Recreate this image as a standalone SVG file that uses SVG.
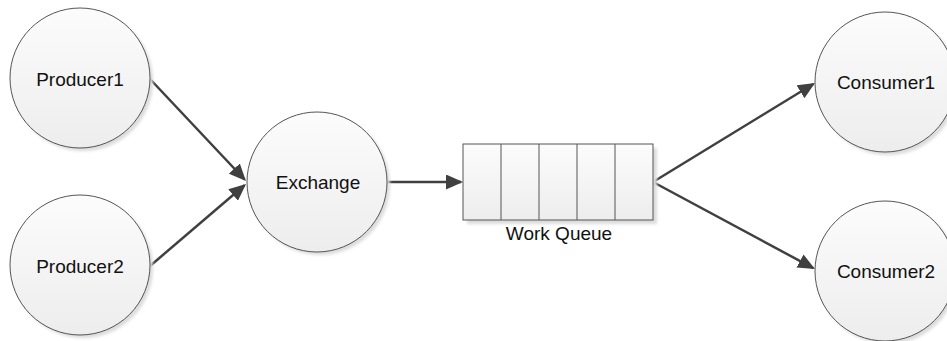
<svg xmlns="http://www.w3.org/2000/svg" width="947" height="341" viewBox="0 0 947 341">
  <defs>
    <linearGradient id="fillGrad" x1="0" y1="0" x2="0" y2="1">
      <stop offset="0" stop-color="#fcfcfc"/>
      <stop offset="1" stop-color="#ededed"/>
    </linearGradient>
    <filter id="soft" x="-20%" y="-20%" width="140%" height="140%">
      <feGaussianBlur stdDeviation="1.5"/>
    </filter>
    <marker id="arrow" markerUnits="userSpaceOnUse" markerWidth="19" markerHeight="15" refX="15" refY="7.5" orient="auto">
      <path d="M0,0 L17,7.5 L0,15 z" fill="#404040"/>
    </marker>
  </defs>
  <style>
    .shadow { fill: #dcdcdc; filter: url(#soft); }
    .node { fill: url(#fillGrad); stroke: #555555; stroke-width: 1; }
    .label { font-family: "Liberation Sans", Arial, sans-serif; font-size: 19px; fill: #111111; text-anchor: middle; }
    .edge { stroke: #404040; stroke-width: 2.5; fill: none; marker-end: url(#arrow); }
  </style>

  <g id="connectors">
    <line class="edge" x1="150" y1="79" x2="244.6" y2="179.5"/>
    <line class="edge" x1="150" y1="266" x2="244.5" y2="185.3"/>
    <line class="edge" x1="387" y1="182" x2="461" y2="182"/>
    <line class="edge" x1="653" y1="182" x2="813.3" y2="84"/>
    <line class="edge" x1="653" y1="182" x2="813.2" y2="268.1"/>
  </g>

  <g id="producer1">
    <circle class="shadow" cx="83" cy="81" r="70"/>
    <circle class="node" cx="80" cy="78" r="70"/>
    <text class="label" x="80" y="86">Producer1</text>
  </g>

  <g id="producer2">
    <circle class="shadow" cx="83" cy="268" r="70"/>
    <circle class="node" cx="80" cy="265" r="70"/>
    <text class="label" x="80" y="273">Producer2</text>
  </g>

  <g id="exchange">
    <circle class="shadow" cx="320" cy="185" r="70"/>
    <circle class="node" cx="317" cy="182" r="70"/>
    <text class="label" x="318" y="189">Exchange</text>
  </g>

  <g id="work-queue">
    <rect class="shadow" x="467" y="148" width="190" height="76"/>
    <rect class="node" x="463" y="144" width="190" height="76"/>
    <line x1="501" y1="144" x2="501" y2="220" stroke="#555555"/>
    <line x1="539" y1="144" x2="539" y2="220" stroke="#555555"/>
    <line x1="577" y1="144" x2="577" y2="220" stroke="#555555"/>
    <line x1="615" y1="144" x2="615" y2="220" stroke="#555555"/>
    <text class="label" x="559" y="240">Work Queue</text>
  </g>

  <g id="consumer1">
    <circle class="shadow" cx="888" cy="85" r="70"/>
    <circle class="node" cx="885" cy="82" r="70"/>
    <text class="label" x="886" y="89">Consumer1</text>
  </g>

  <g id="consumer2">
    <circle class="shadow" cx="888" cy="274" r="70"/>
    <circle class="node" cx="885" cy="271" r="70"/>
    <text class="label" x="886" y="278">Consumer2</text>
  </g>
</svg>
